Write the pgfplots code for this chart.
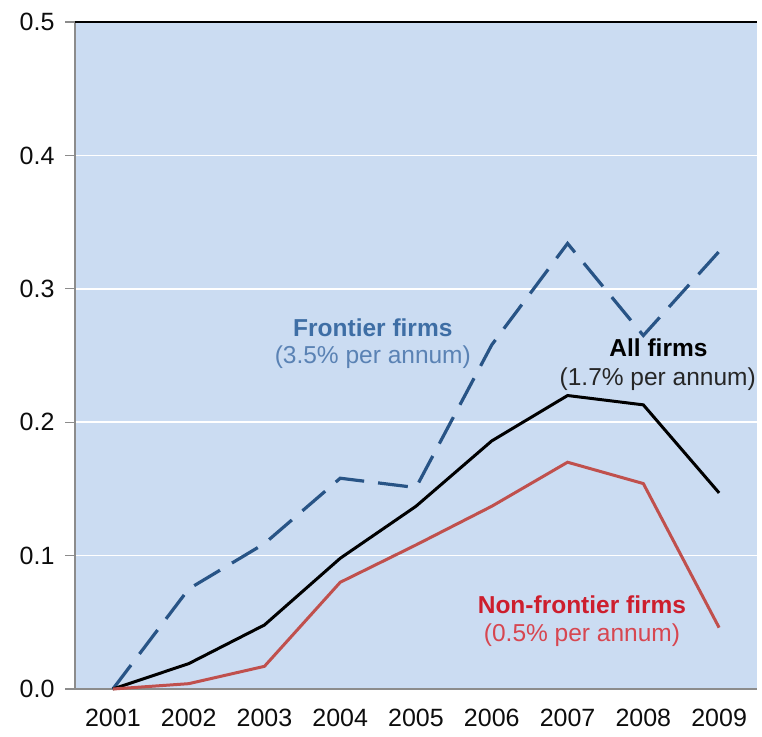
\documentclass[border=0pt]{standalone}
\usepackage{pgfplots}
\pgfplotsset{compat=1.18}
\usepackage{fontspec}
\setmainfont{Liberation Sans}
\definecolor{bgblue}{RGB}{203,220,242}
\definecolor{frontblue}{RGB}{40,84,134}
\definecolor{frontlab}{RGB}{62,110,165}
\definecolor{frontlab2}{RGB}{90,130,180}
\definecolor{nonred}{RGB}{192,80,77}
\definecolor{nonlab}{RGB}{205,30,45}
\definecolor{nonlab2}{RGB}{215,70,80}
\definecolor{axgray}{RGB}{140,140,140}
\begin{document}
\begin{tikzpicture}
\begin{axis}[
  scale only axis,
  width=682pt, height=667pt,
  xmin=0.5, xmax=9.5,
  ymin=0, ymax=0.5,
  axis background/.style={fill=bgblue},
  axis lines*=left,
  axis line style={axgray, line width=1.2pt},
  xtick={1,...,9},
  xticklabels={2001,2002,2003,2004,2005,2006,2007,2008,2009},
  major x tick style={draw=none},
  extra x ticks={0.5,1.5,...,9.5},
  extra x tick labels={},
  extra x tick style={tick style={axgray, line width=1.2pt}, major tick length=9pt, tick align=outside},
  ytick={0,0.1,0.2,0.3,0.4,0.5},
  ymajorgrids,
  grid style={white, line width=1.5pt},
  y tick style={axgray, line width=1.2pt},
  major tick length=10pt,
  tick align=outside,
  yticklabel style={/pgf/number format/fixed, /pgf/number format/precision=1, /pgf/number format/fixed zerofill, xshift=-7pt},
  /pgf/number format/assume math mode=true,
  ticklabel style={font=\fontsize{25}{28}\selectfont, text=black!95},
  xticklabel style={yshift=-6pt},
  clip=false,
]
\draw[black, line width=1.4pt] (axis cs:0.5,0.5) -- (axis cs:9.5,0.5);
% Frontier firms
\addplot[frontblue, line width=3.2pt, dash pattern=on 30pt off 14pt] coordinates {
(1,0) (2,0.075) (3,0.109) (4,0.158) (5,0.151) (6,0.258) (7,0.334) (8,0.265) (9,0.328)};
% All firms
\addplot[black, line width=3pt] coordinates {
(1,0) (2,0.019) (3,0.048) (4,0.098) (5,0.137) (6,0.186) (7,0.220) (8,0.213) (9,0.147)};
% Non-frontier firms
\addplot[nonred, line width=3pt] coordinates {
(1,0) (2,0.004) (3,0.017) (4,0.080) (5,0.108) (6,0.137) (7,0.170) (8,0.154) (9,0.046)};
\node[font=\fontsize{24.5}{28}\selectfont\bfseries, text=frontlab] at (axis cs:4.43,0.271) {Frontier firms};
\node[font=\fontsize{24.5}{28}\selectfont, text=frontlab2] at (axis cs:4.43,0.249) {(3.5\% per annum)};
\node[font=\fontsize{24.5}{28}\selectfont\bfseries, text=black] at (axis cs:8.20,0.256) {All firms};
\node[font=\fontsize{24.5}{28}\selectfont, text=black!85] at (axis cs:8.19,0.232) {(1.7\% per annum)};
\node[font=\fontsize{24.5}{28}\selectfont\bfseries, text=nonlab] at (axis cs:7.19,0.063) {Non-frontier firms};
\node[font=\fontsize{24.5}{28}\selectfont, text=nonlab2] at (axis cs:7.19,0.040) {(0.5\% per annum)};
\end{axis}
\pgfresetboundingbox
\path ([xshift=-75pt,yshift=-47pt]current axis.south west) rectangle ([xshift=5pt,yshift=22pt]current axis.north east);
\end{tikzpicture}
\end{document}
